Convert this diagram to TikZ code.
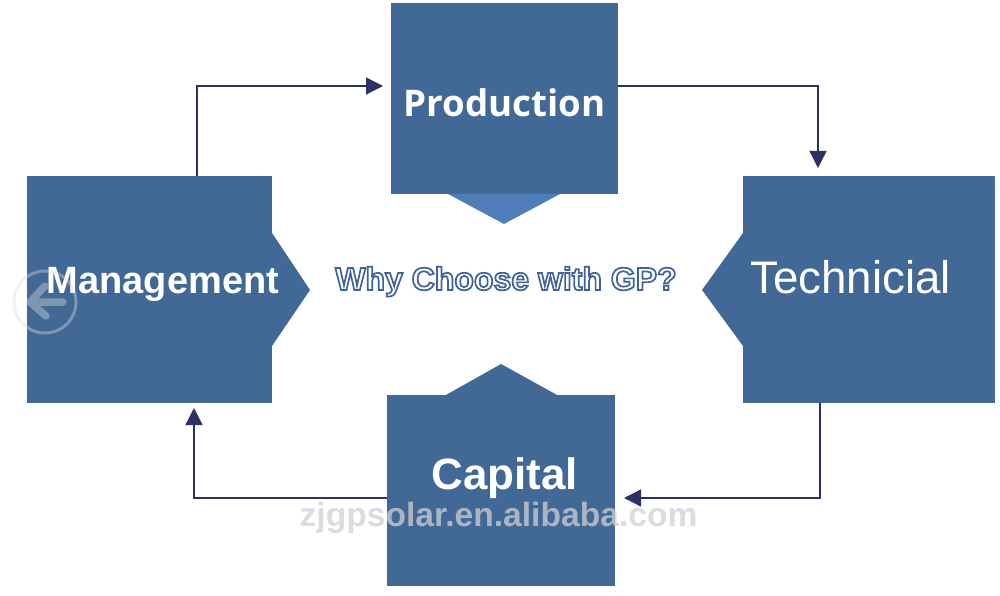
\documentclass[tikz,border=0pt]{standalone}
\usepackage{fontspec}
\setmainfont{Liberation Sans}
\newfontfamily\prodfont{Open Sans}
\usetikzlibrary{arrows.meta}
\definecolor{boxblue}{HTML}{426895}
\definecolor{tipblue}{HTML}{4F7DB8}
\definecolor{linkblue}{HTML}{2C3264}
\definecolor{markgray}{HTML}{D0D0D4}
\definecolor{badgegray}{HTML}{DCDCE0}
\newcommand{\outlined}[1]{\special{pdf:code 2 Tr 1.7 w 0.25 0.385 0.6 RG}#1\special{pdf:code 0 Tr 1 w 0 0 0 RG}}
\tikzset{
  blockbox/.style={fill=boxblue,draw=none,inner sep=0pt,outer sep=0pt},
  blocktip/.style={fill=boxblue,draw=none},
  blocktext/.style={text=white,anchor=base,inner sep=0pt},
  link/.style={draw=linkblue,line width=1.3pt,-{Triangle[length=17pt,width=17pt]}},
}
\begin{document}
\begin{tikzpicture}[x=1pt,y=-1pt]
\useasboundingbox (0,0) rectangle (1000,596);
% blocks
\node[blockbox,minimum width=227pt,minimum height=191pt] (prod) at (504.5,98.5) {};
\node[blockbox,minimum width=245pt,minimum height=227pt] (mgmt) at (149.5,289.5) {};
\node[blockbox,minimum width=252pt,minimum height=227pt] (tech) at (869,289.5) {};
\node[blockbox,minimum width=228pt,minimum height=191pt] (capi) at (501,490.5) {};
% pointers
\fill[tipblue] (448,194) -- (504,224) -- (560,194) -- cycle;
\fill[blocktip] (272,233) -- (310,290) -- (272,346) -- cycle;
\fill[blocktip] (743,233) -- (702,290) -- (743,346) -- cycle;
\fill[blocktip] (445,395.5) -- (501,364) -- (558,395.5) -- cycle;
% connector ends
\coordinate (prodIn) at (383,86);
\coordinate (prodOut) at (618,86);
\coordinate (techIn) at (818,168);
\coordinate (techOut) at (820,403);
\coordinate (capiIn) at (624,498);
\coordinate (capiOut) at (387,498);
\coordinate (mgmtIn) at (194,408);
\coordinate (mgmtOut) at (197,176);
\draw[link] (mgmtOut) |- (prodIn);
\draw[link] (prodOut) -| (techIn);
\draw[link] (techOut) |- (capiIn);
\draw[link] (capiOut) -| (mgmtIn);
% labels
\node[blocktext,font=\prodfont\bfseries\fontsize{36.7}{36}\selectfont] (prodT) at (504.5,117) {Production};
\node[blocktext,font=\bfseries\fontsize{38}{38}\selectfont] (mgmtT) at (163,293) {Management};
\node[blocktext,font=\fontsize{45.7}{46}\selectfont] (techT) at (850.5,293) {Technicial};
\node[blocktext,font=\bfseries\fontsize{43.9}{44}\selectfont] (capiT) at (504.5,489) {Capital};
\node[anchor=base,inner sep=0pt,text=white,font=\bfseries\fontsize{32}{32}\selectfont] (why) at (506,290) {\outlined{Why Choose with GP?}};
% page-turn badge
\draw[draw=badgegray,line width=3pt,opacity=.4] (45,302) circle (31pt);
\draw[draw=badgegray,line width=7.5pt,opacity=.4,line cap=round,line join=round] (63,302) -- (30,302) (45,286) -- (30,302) -- (46,316);
% watermark
\node[anchor=base,inner sep=0pt,text=markgray,text opacity=.75,font=\bfseries\fontsize{33.6}{34}\selectfont] (mark) at (498.5,526) {zjgpsolar.en.alibaba.com};
\end{tikzpicture}
\end{document}
